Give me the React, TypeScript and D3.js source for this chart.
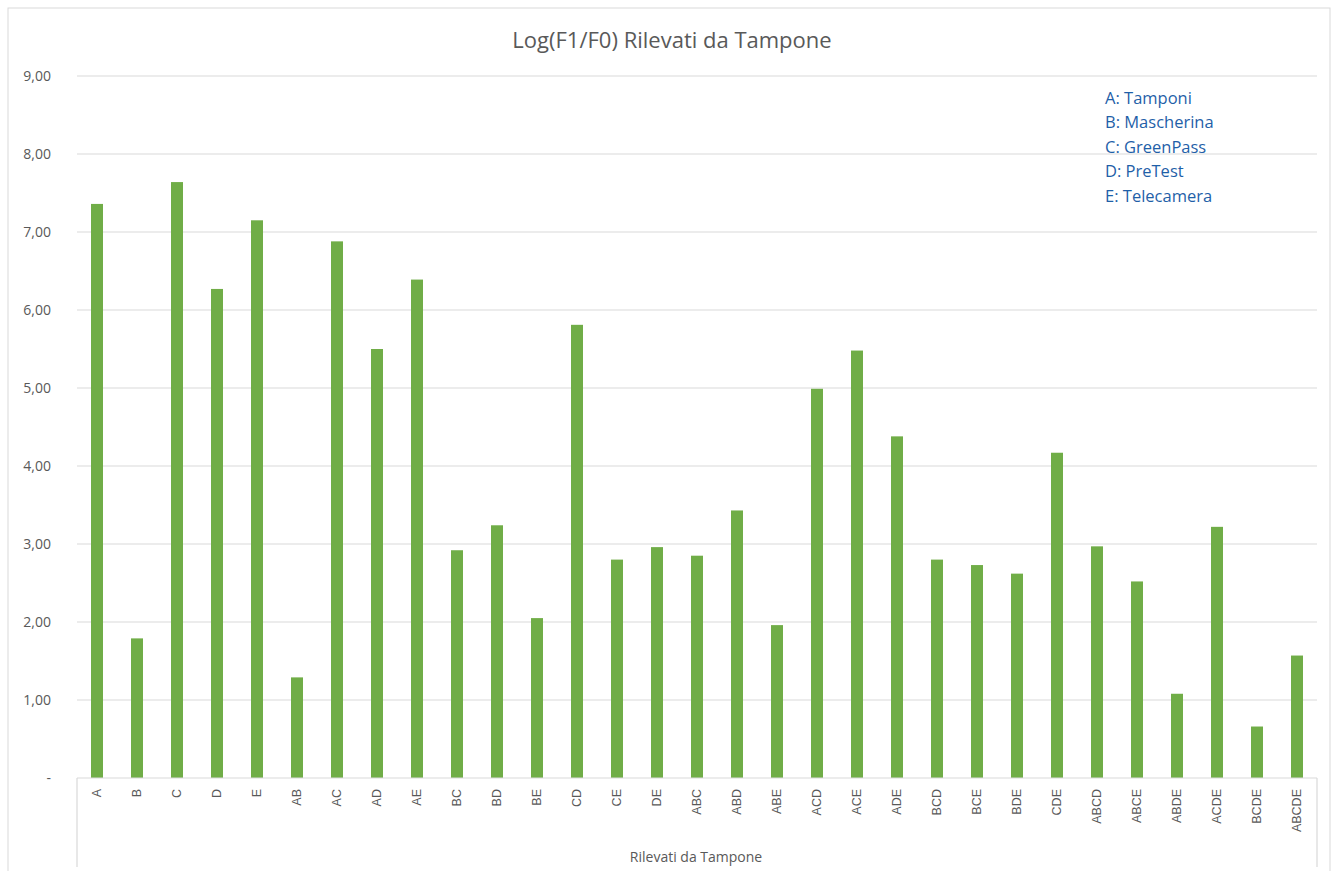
import React, { useEffect, useRef } from 'react';
import * as d3 from 'd3';

const categories = [
  'A', 'B', 'C', 'D', 'E', 'AB', 'AC', 'AD', 'AE', 'BC', 'BD', 'BE', 'CD', 'CE', 'DE',
  'ABC', 'ABD', 'ABE', 'ACD', 'ACE', 'ADE', 'BCD', 'BCE', 'BDE', 'CDE',
  'ABCD', 'ABCE', 'ABDE', 'ACDE', 'BCDE', 'ABCDE',
];
const values = [
  7.36, 1.79, 7.64, 6.27, 7.15, 1.29, 6.88, 5.5, 6.39, 2.92, 3.24, 2.05, 5.81, 2.8, 2.96,
  2.85, 3.43, 1.96, 4.99, 5.48, 4.38, 2.8, 2.73, 2.62, 4.17,
  2.97, 2.52, 1.08, 3.22, 0.66, 1.57,
];
const yTicks = [0, 1, 2, 3, 4, 5, 6, 7, 8, 9];
const legendItems = ['A: Tamponi', 'B: Mascherina', 'C: GreenPass', 'D: PreTest', 'E: Telecamera'];

const App: React.FC = () => {
  const svgRef = useRef(null);

  useEffect(() => {
    document.body.style.margin = '0';
    const W = 1339;
    const H = 871;
    const left = 77;
    const right = 1317;
    const top = 76;
    const bottom = 778;
    const grey = '#595959';
    const lineCol = '#d9d9d9';

    const root = d3.select(svgRef.current);
    root.selectAll('*').remove();
    const svg = root.attr('width', W).attr('height', H);

    // chart frame
    svg.append('rect')
      .attr('x', 8).attr('y', 8)
      .attr('width', 1322).attr('height', 880)
      .attr('fill', '#fff')
      .attr('stroke', lineCol);

    const xScale = d3.scaleBand()
      .domain(categories)
      .range([left, right])
      .paddingInner(0.7)
      .paddingOuter(0.35);

    const yScale = d3.scaleLinear()
      .domain([0, 9])
      .range([bottom, top]);

    // gridlines
    svg.append('g')
      .selectAll('line')
      .data(yTicks.filter(t => t > 0))
      .enter().append('line')
      .attr('x1', left).attr('x2', right)
      .attr('y1', d => yScale(d)).attr('y2', d => yScale(d))
      .attr('stroke', lineCol)
      .attr('stroke-width', 1.2);

    // y labels
    const fmt = d3.format('.2f');
    svg.append('g')
      .selectAll('text')
      .data(yTicks)
      .enter().append('text')
      .attr('x', 51)
      .attr('y', d => yScale(d))
      .attr('dy', '0.35em')
      .attr('text-anchor', 'end')
      .style('font-family', '"Open Sans", sans-serif')
      .style('font-size', '14px')
      .attr('fill', grey)
      .text(d => (d === 0 ? '-' : fmt(d).replace('.', ',')));

    // bars
    svg.append('g')
      .selectAll('rect')
      .data(categories)
      .enter().append('rect')
      .attr('x', d => xScale(d) as number)
      .attr('y', (d, i) => yScale(values[i]))
      .attr('width', xScale.bandwidth())
      .attr('height', (d, i) => yScale(0) - yScale(values[i]))
      .attr('fill', '#70ad47');

    // category axis box
    svg.append('line')
      .attr('x1', left).attr('x2', right)
      .attr('y1', bottom).attr('y2', bottom)
      .attr('stroke', lineCol).attr('stroke-width', 1.2);
    [left, right].forEach(x => {
      svg.append('line')
        .attr('x1', x).attr('x2', x)
        .attr('y1', bottom).attr('y2', 867)
        .attr('stroke', lineCol).attr('stroke-width', 1.2);
    });

    svg.append('g')
      .selectAll('text')
      .data(categories)
      .enter().append('text')
      .attr('transform', d => `translate(${(xScale(d) as number) + xScale.bandwidth() / 2}, 789) rotate(-90)`)
      .attr('dy', '0.35em')
      .attr('text-anchor', 'end')
      .style('font-family', '"Liberation Sans", Arial, sans-serif')
      .style('font-size', '12.5px')
      .attr('fill', grey)
      .text(d => d);

    svg.append('text')
      .attr('x', 696)
      .attr('y', 862)
      .attr('text-anchor', 'middle')
      .style('font-family', '"Open Sans", sans-serif')
      .style('font-size', '14px')
      .attr('fill', grey)
      .text('Rilevati da Tampone');

    // title
    svg.append('text')
      .attr('x', 672)
      .attr('y', 48)
      .attr('text-anchor', 'middle')
      .style('font-family', '"Open Sans", sans-serif')
      .style('font-size', '22px')
      .attr('fill', grey)
      .text('Log(F1/F0) Rilevati da Tampone');

    // legend note
    svg.append('g')
      .selectAll('text')
      .data(legendItems)
      .enter().append('text')
      .attr('x', 1105)
      .attr('y', (d, i) => 98 + i * 24.5)
      .attr('dy', '0.35em')
      .style('font-family', '"Open Sans", sans-serif')
      .style('font-size', '16.5px')
      .attr('fill', '#1f5fa8')
      .text(d => d);
  }, []);

  return <svg ref={svgRef}></svg>;
};

export default App;
